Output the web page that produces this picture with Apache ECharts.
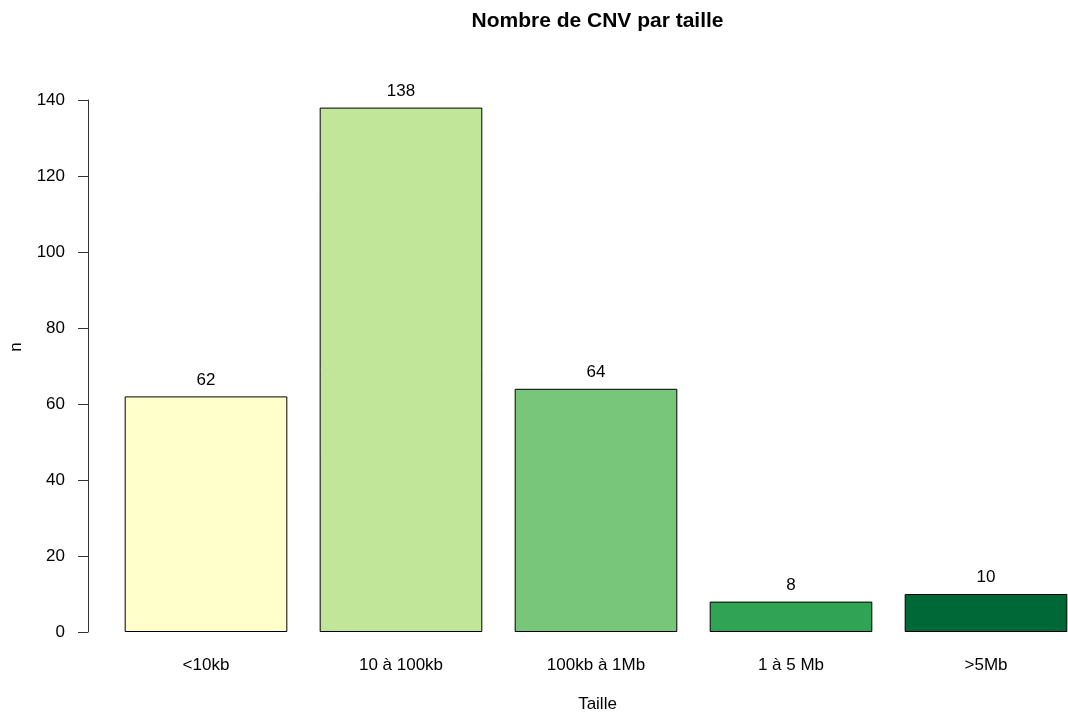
<!DOCTYPE html>
<html>
<head>
<meta charset="utf-8">
<script src="https://cdn.jsdelivr.net/npm/echarts@6/dist/echarts.min.js"></script>
<style>
  html, body { margin: 0; padding: 0; background: #fff; }
  #chart { width: 1068px; height: 716px; }
</style>
</head>
<body>
<div id="chart"></div>
<script>
// CNV counts by size class
const categories = ['<10kb', '10 à 100kb', '100kb à 1Mb', '1 à 5 Mb', '>5Mb'];
const counts = [62, 138, 64, 8, 10];
const barColors = ['#FFFFCC', '#C2E699', '#78C679', '#31A354', '#006837'];
const yTicks = { min: 0, max: 140, interval: 20 };

const FONT = 'Liberation Sans, Arial, Helvetica, sans-serif';
const FS = 17;
const chart = echarts.init(document.getElementById('chart'), null, { renderer: 'canvas' });

chart.setOption({
  animation: false,
  backgroundColor: '#ffffff',
  textStyle: { fontFamily: FONT },
  grid: { left: 108.5, top: 100, width: 975, height: 532, containLabel: false, outerBoundsMode: 'none' },
  xAxis: {
    type: 'category',
    data: categories,
    axisLine: { show: false },
    axisTick: { show: false },
    axisLabel: { color: '#000', fontSize: FS, fontFamily: FONT, margin: 25, interval: 0 },
    splitLine: { show: false }
  },
  yAxis: {
    type: 'value',
    min: yTicks.min,
    max: yTicks.max,
    interval: yTicks.interval,
    offset: 20.5,
    axisLine: { show: true, lineStyle: { color: '#333', width: 1 } },
    axisTick: { show: true, length: 10, lineStyle: { color: '#333', width: 1 } },
    axisLabel: { color: '#000', fontSize: FS, fontFamily: FONT, margin: 23 },
    splitLine: { show: false }
  },
  series: [{
    type: 'bar',
    data: counts.map((v, i) => ({ value: v, itemStyle: { color: barColors[i] } })),
    barCategoryGap: '16.6%',
    itemStyle: { borderColor: '#000', borderWidth: 1 },
    label: {
      show: true,
      position: 'top',
      distance: 8,
      color: '#000',
      fontSize: FS,
      fontFamily: FONT
    }
  }],
  graphic: [
    {
      type: 'text', x: 597.5, y: 21,
      style: { text: 'Nombre de CNV par taille', fill: '#000', font: 'bold 21px ' + FONT,
               textAlign: 'center', textVerticalAlign: 'middle' }
    },
    {
      type: 'text', x: 597.5, y: 704,
      style: { text: 'Taille', fill: '#000', font: FS + 'px ' + FONT,
               textAlign: 'center', textVerticalAlign: 'middle' }
    },
    {
      type: 'text', x: 16, y: 347, rotation: Math.PI / 2,
      style: { text: 'n', fill: '#000', font: FS + 'px ' + FONT,
               textAlign: 'center', textVerticalAlign: 'middle' }
    }
  ]
});
</script>
</body>
</html>
